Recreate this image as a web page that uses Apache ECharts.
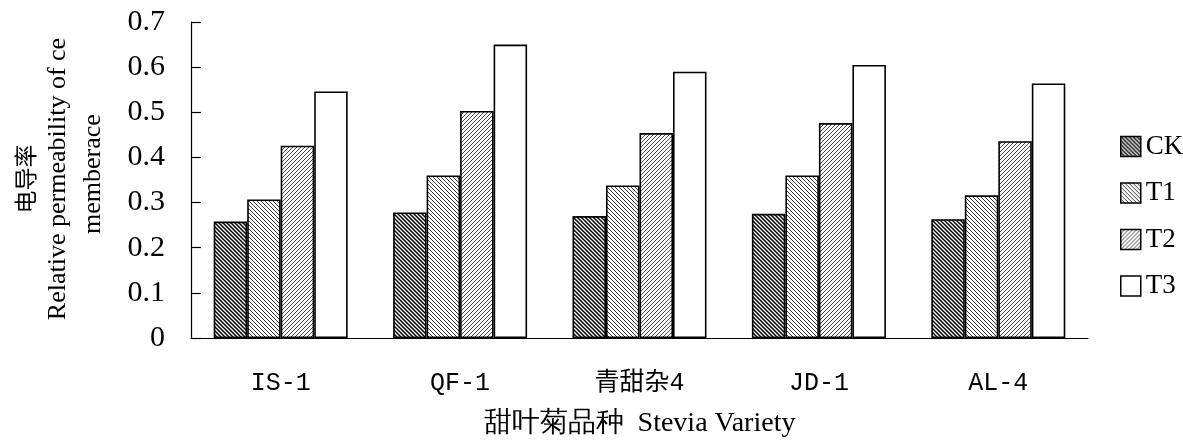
<!DOCTYPE html>
<html>
<head>
<meta charset="utf-8">
<script src="https://cdn.jsdelivr.net/npm/echarts@6/dist/echarts.min.js"></script>
<style>
  html, body { margin: 0; padding: 0; background: #fff; }
  #chart { width: 1183px; height: 443px; }
</style>
</head>
<body>
<div id="chart"></div>
<script>
// Stevia varieties and relative electrolyte leakage per treatment
const categories = ['IS-1', 'QF-1', '青甜杂4', 'JD-1', 'AL-4'];
const seriesNames = ['CK', 'T1', 'T2', 'T3'];
const ckValues = [0.258, 0.278, 0.270, 0.275, 0.263];
const t1Values = [0.307, 0.360, 0.338, 0.360, 0.316];
const t2Values = [0.426, 0.503, 0.454, 0.476, 0.436];
const t3Values = [0.546, 0.650, 0.590, 0.605, 0.564];
const yTicks = { min: 0, max: 0.7, step: 0.1 };

// Diagonal hatch tile: dir 1 = "\" lines, dir -1 = "/" lines
function hatch(dir, color, width, size) {
  const c = document.createElement('canvas');
  c.width = size; c.height = size;
  const g = c.getContext('2d');
  g.fillStyle = '#fff';
  g.fillRect(0, 0, size, size);
  g.strokeStyle = color;
  g.lineWidth = width;
  g.lineCap = 'square';
  const segs = dir > 0
    ? [[-1, -1, size + 1, size + 1], [size - 1, -1, size + 1, 1], [-1, size - 1, 1, size + 1]]
    : [[-1, size + 1, size + 1, -1], [-1, 1, 1, -1], [size - 1, size + 1, size + 1, size - 1]];
  g.beginPath();
  segs.forEach(s => { g.moveTo(s[0], s[1]); g.lineTo(s[2], s[3]); });
  g.stroke();
  return { image: c, repeat: 'repeat' };
}

const fills = [
  hatch(1, '#000', 1.5, 4),
  hatch(1, '#222', 0.9, 4),
  hatch(-1, '#333', 0.9, 4),
  '#ffffff'
];
const valueSets = [ckValues, t1Values, t2Values, t3Values];

const serif = 'Liberation Serif, Times New Roman, serif';
const mono = 'Liberation Mono, Noto Sans CJK SC, monospace';
const cjk = 'Noto Sans CJK SC, sans-serif';

const chart = echarts.init(document.getElementById('chart'), null, { renderer: 'canvas' });

chart.setOption({
  backgroundColor: '#fff',
  animation: false,
  grid: { left: 191, right: 95, top: 22, bottom: 105, containLabel: false },
  legend: {
    orient: 'vertical',
    left: 1120,
    top: 133,
    padding: 0,
    itemWidth: 20,
    itemHeight: 20,
    itemGap: 19.5,
    icon: 'rect',
    data: seriesNames,
    itemStyle: { borderColor: '#000', borderWidth: 1.5 },
    textStyle: { fontFamily: serif, fontSize: 27, color: '#000', lineHeight: 27 }
  },
  xAxis: {
    type: 'category',
    data: categories,
    axisLine: { lineStyle: { color: '#000', width: 1.2 } },
    axisTick: { inside: true, length: 10, lineStyle: { color: '#000', width: 1.2 } },
    axisLabel: { fontFamily: mono, fontSize: 25, color: '#000', margin: 33 },
    name: '甜叶菊品种  Stevia Variety',
    nameLocation: 'middle',
    nameGap: 72,
    nameTextStyle: { fontFamily: serif, fontSize: 28, color: '#000', verticalAlign: 'top' }
  },
  yAxis: {
    type: 'value',
    min: yTicks.min,
    max: yTicks.max,
    interval: yTicks.step,
    splitLine: { show: false },
    axisLine: { show: true, lineStyle: { color: '#000', width: 1.2 } },
    axisTick: { show: true, inside: true, length: 10, lineStyle: { color: '#000', width: 1.2 } },
    axisLabel: {
      fontFamily: serif, fontSize: 30, color: '#000', margin: 26,
      formatter: v => (v === 0 ? '0' : v.toFixed(1))
    }
  },
  series: seriesNames.map((name, i) => ({
    name,
    type: 'bar',
    data: valueSets[i],
    barGap: '0%',
    barCategoryGap: '25.3%',
    itemStyle: { color: fills[i], borderColor: '#000', borderWidth: 1.6 }
  })),
  graphic: [
    {
      type: 'text', x: 25, y: 179, rotation: Math.PI / 2,
      style: { text: '电导率', font: '23px ' + cjk, fill: '#000', align: 'center', verticalAlign: 'middle' }
    },
    {
      type: 'text', x: 58, y: 179, rotation: Math.PI / 2,
      style: { text: 'Relative permeability of ce', font: '26px ' + serif, fill: '#000', align: 'center', verticalAlign: 'middle' }
    },
    {
      type: 'text', x: 93, y: 174, rotation: Math.PI / 2,
      style: { text: 'memberace', font: '26px ' + serif, fill: '#000', align: 'center', verticalAlign: 'middle' }
    }
  ]
});
</script>
</body>
</html>
